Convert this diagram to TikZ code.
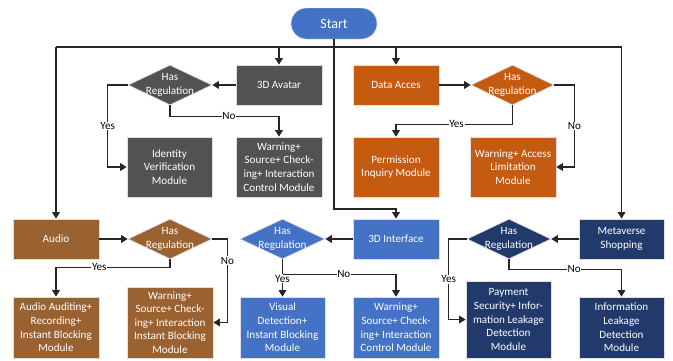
\documentclass[tikz,border=0pt]{standalone}
\usepackage{fontspec}
\setmainfont{Carlito}
\usetikzlibrary{shapes.geometric,arrows.meta}
\definecolor{avgray}{HTML}{525252}
\definecolor{daorange}{HTML}{C55A11}
\definecolor{aubrown}{HTML}{9A6231}
\definecolor{ifblue}{HTML}{4472C4}
\definecolor{mvnavy}{HTML}{213A6B}
\begin{document}
\begin{tikzpicture}[x=0.03cm, y=-0.03cm,
  font=\fontsize{9.5}{11.6}\selectfont,
  box/.style={draw=white!75!gray, line width=0.6pt, text=white, align=center, inner sep=1pt, minimum width=2.58cm},
  dia/.style={diamond, draw=white!75!gray, line width=0.6pt, inner sep=0pt, minimum width=2.52cm, minimum height=1.2cm},
  diatext/.style={text=white, align=center, inner sep=0pt},
  line/.style={line width=1pt, black!85},
  arr/.style={line, -{Triangle[length=5.5pt,width=6.5pt]}},
  lbl/.style={fill=white, text=black, inner sep=0.6pt}]
\useasboundingbox (0,0) rectangle (673,360);
\node[fill=ifblue, draw=white!75!gray, text=white, rounded corners=0.465cm, minimum width=2.58cm, minimum height=0.93cm, font=\fontsize{12}{14}\selectfont] (start) at (334,23.5) {Start};
\coordinate (tl) at (56,47);
\coordinate (ifj) at (334,209);
% first row
\node[box, fill=avgray, minimum height=1.2cm] (avatar) at (279,85) {3D Avatar};
\node[dia, fill=avgray] (avq) at (170,85) {};
\node[diatext] (avqt) at (avq) {Has\\Regulation};
\node[box, fill=avgray, minimum width=2.55cm, minimum height=1.8cm] (ident) at (169.5,167) {Identity\\Verification\\Module};
\node[box, fill=avgray, minimum height=1.8cm] (avno) at (279,167) {Warning+\\Source+ Check-\\ing+ Interaction\\Control Module};
\node[box, fill=daorange, minimum height=1.2cm] (data) at (396,85) {Data Acces};
\node[dia, fill=daorange, minimum width=2.49cm] (daq) at (512.5,85) {};
\node[diatext] (daqt) at (daq) {Has\\Regulation};
\node[box, fill=daorange, minimum height=1.8cm] (perm) at (396,167) {Permission\\Inquiry Module};
\node[box, fill=daorange, minimum height=1.8cm] (acc) at (513,167) {Warning+ Access\\Limitation\\Module};
% second row
\node[box, fill=aubrown, minimum height=1.2cm] (audio) at (56,239) {Audio};
\node[dia, fill=aubrown] (auq) at (170,239) {};
\node[diatext] (auqt) at (auq) {Has\\Regulation};
\node[box, fill=aubrown, minimum height=1.83cm] (audit) at (56,327.5) {Audio Auditing+\\Recording+\\Instant Blocking\\Module};
\node[box, fill=aubrown, minimum height=2.13cm] (auno) at (170,322.5) {Warning+\\Source+ Check-\\ing+ Interaction\\Instant Blocking\\Module};
\node[box, fill=ifblue, minimum height=1.2cm] (iface) at (396,239) {3D Interface};
\node[dia, fill=ifblue, minimum width=2.55cm] (ifq) at (282.5,239) {};
\node[diatext] (ifqt) at (ifq) {Has\\Regulation};
\node[box, fill=ifblue, minimum width=2.55cm, minimum height=1.83cm] (visual) at (282.5,327.5) {Visual\\Detection+\\Instant Blocking\\Module};
\node[box, fill=ifblue, minimum height=1.83cm] (ifno) at (396,327.5) {Warning+\\Source+ Check-\\ing+ Interaction\\Control Module};
\node[box, fill=mvnavy, minimum width=2.55cm, minimum height=1.2cm] (meta) at (621.5,239) {Metaverse\\Shopping};
\node[dia, fill=mvnavy] (mvq) at (509,239) {};
\node[diatext] (mvqt) at (mvq) {Has\\Regulation};
\node[box, fill=mvnavy, minimum width=2.55cm, minimum height=2.31cm] (pay) at (508.5,319.5) {Payment\\Security+ Infor-\\mation Leakage\\Detection\\Module};
\node[box, fill=mvnavy, minimum width=2.55cm, minimum height=1.83cm] (info) at (621.5,327.5) {Information\\Leakage\\Detection\\Module};
% connectors
\draw[arr] (tl) -| (meta.north);
\draw[arr] (tl) -- (audio.north);
\draw[arr] (avatar.north |- tl) -- (avatar.north);
\draw[arr] (data.north |- tl) -- (data.north);
\draw[arr] (start.south) -- (ifj) -| (iface.north);
\draw[arr] (avatar.west) -- (avq.east);
\draw[arr] (avq.west) -- ++(-20,0) |- node[lbl, pos=0.25] {Yes} (ident.west);
\draw[arr] (avq.south) -- ++(0,11) -| node[lbl, pos=0.27] {No} (avno.north);
\draw[arr] (data.east) -- (daq.west);
\draw[arr] (daq.south) -- ++(0,19) -| node[lbl, pos=0.24] {Yes} (perm.north);
\draw[arr] (daq.east) -- ++(20,0) |- node[lbl, pos=0.25] {No} (acc.east);
\draw[arr] (audio.east) -- (auq.west);
\draw[arr] (auq.south) -- ++(0,8) -| node[lbl, pos=0.31] {Yes} (audit.north);
\draw[arr] (auq.east) -- ++(15,0) |- node[lbl, pos=0.13] {No} (auno.east);
\draw[arr] (iface.west) -- (ifq.east);
\draw[arr] (ifq.south) -- node[lbl, pos=0.52] {Yes} (visual.north);
\draw[arr] (ifq.south) ++(0,15) -| node[lbl, pos=0.27] {No} (ifno.north);
\draw[arr] (meta.west) -- (mvq.east);
\draw[arr] (mvq.west) -- ++(-18,0) |- node[lbl, pos=0.25] {Yes} (pay.west);
\draw[arr] (mvq.south) -- ++(0,10) -| node[lbl, pos=0.29] {No} (info.north);
\end{tikzpicture}
\end{document}
